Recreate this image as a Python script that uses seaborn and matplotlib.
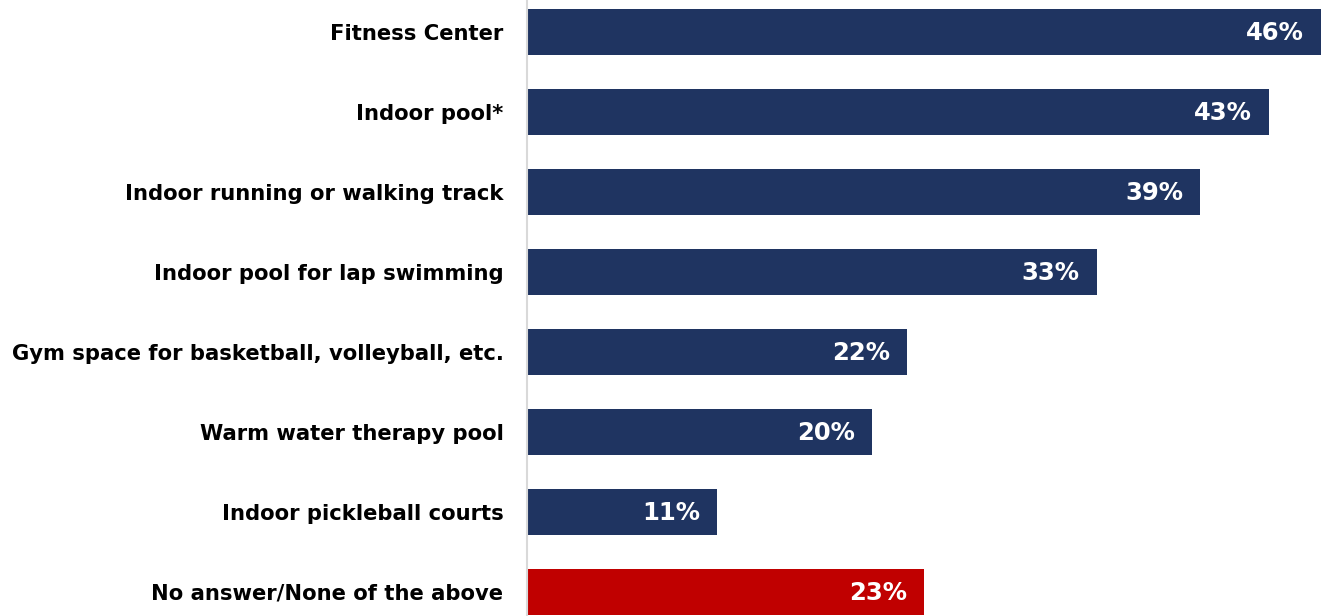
import matplotlib
matplotlib.use("Agg")
import matplotlib.pyplot as plt
import seaborn as sns
import pandas as pd

categories = [
    "Fitness Center",
    "Indoor pool*",
    "Indoor running or walking track",
    "Indoor pool for lap swimming",
    "Gym space for basketball, volleyball, etc.",
    "Warm water therapy pool",
    "Indoor pickleball courts",
    "No answer/None of the above",
]
values = [46, 43, 39, 33, 22, 20, 11, 23]
value_labels = ["46%", "43%", "39%", "33%", "22%", "20%", "11%", "23%"]
bar_colors = ["#1F3461"] * 7 + ["#C00000"]

sns.set_style("white")
df = pd.DataFrame({"cat": categories, "val": values})

fig = plt.figure(figsize=(13.25, 6.16), dpi=100)
ax = fig.add_axes([527 / 1325, 0, 1 - 527 / 1325, 1])
sns.barplot(data=df, x="val", y="cat", hue="cat", palette=bar_colors,
            legend=False, width=0.575, saturation=1, ax=ax, orient="h",
            linewidth=0)

ax.set_xlim(0, 46 * (1325 - 527) / (1321 - 527))
ax.set_ylim(7.306, -0.394)
ax.set_xlabel("")
ax.set_ylabel("")
ax.set_xticks([])
for s in ["top", "right", "bottom"]:
    ax.spines[s].set_visible(False)
ax.spines["left"].set_color("#D9D9D9")
ax.spines["left"].set_linewidth(1.5)
ax.tick_params(axis="y", length=0, pad=17)
for lab in ax.get_yticklabels():
    lab.set_fontfamily("DejaVu Sans")
    lab.set_fontweight("bold")
    lab.set_fontsize(15.2)
    lab.set_color("black")

for i, (v, t) in enumerate(zip(values, value_labels)):
    ax.annotate(t, xy=(v, i), xytext=(-17, -1), textcoords="offset pixels",
                ha="right", va="center", color="white", fontsize=17.5,
                fontweight="bold", family="DejaVu Sans")

fig.savefig("out.png", dpi=100)
